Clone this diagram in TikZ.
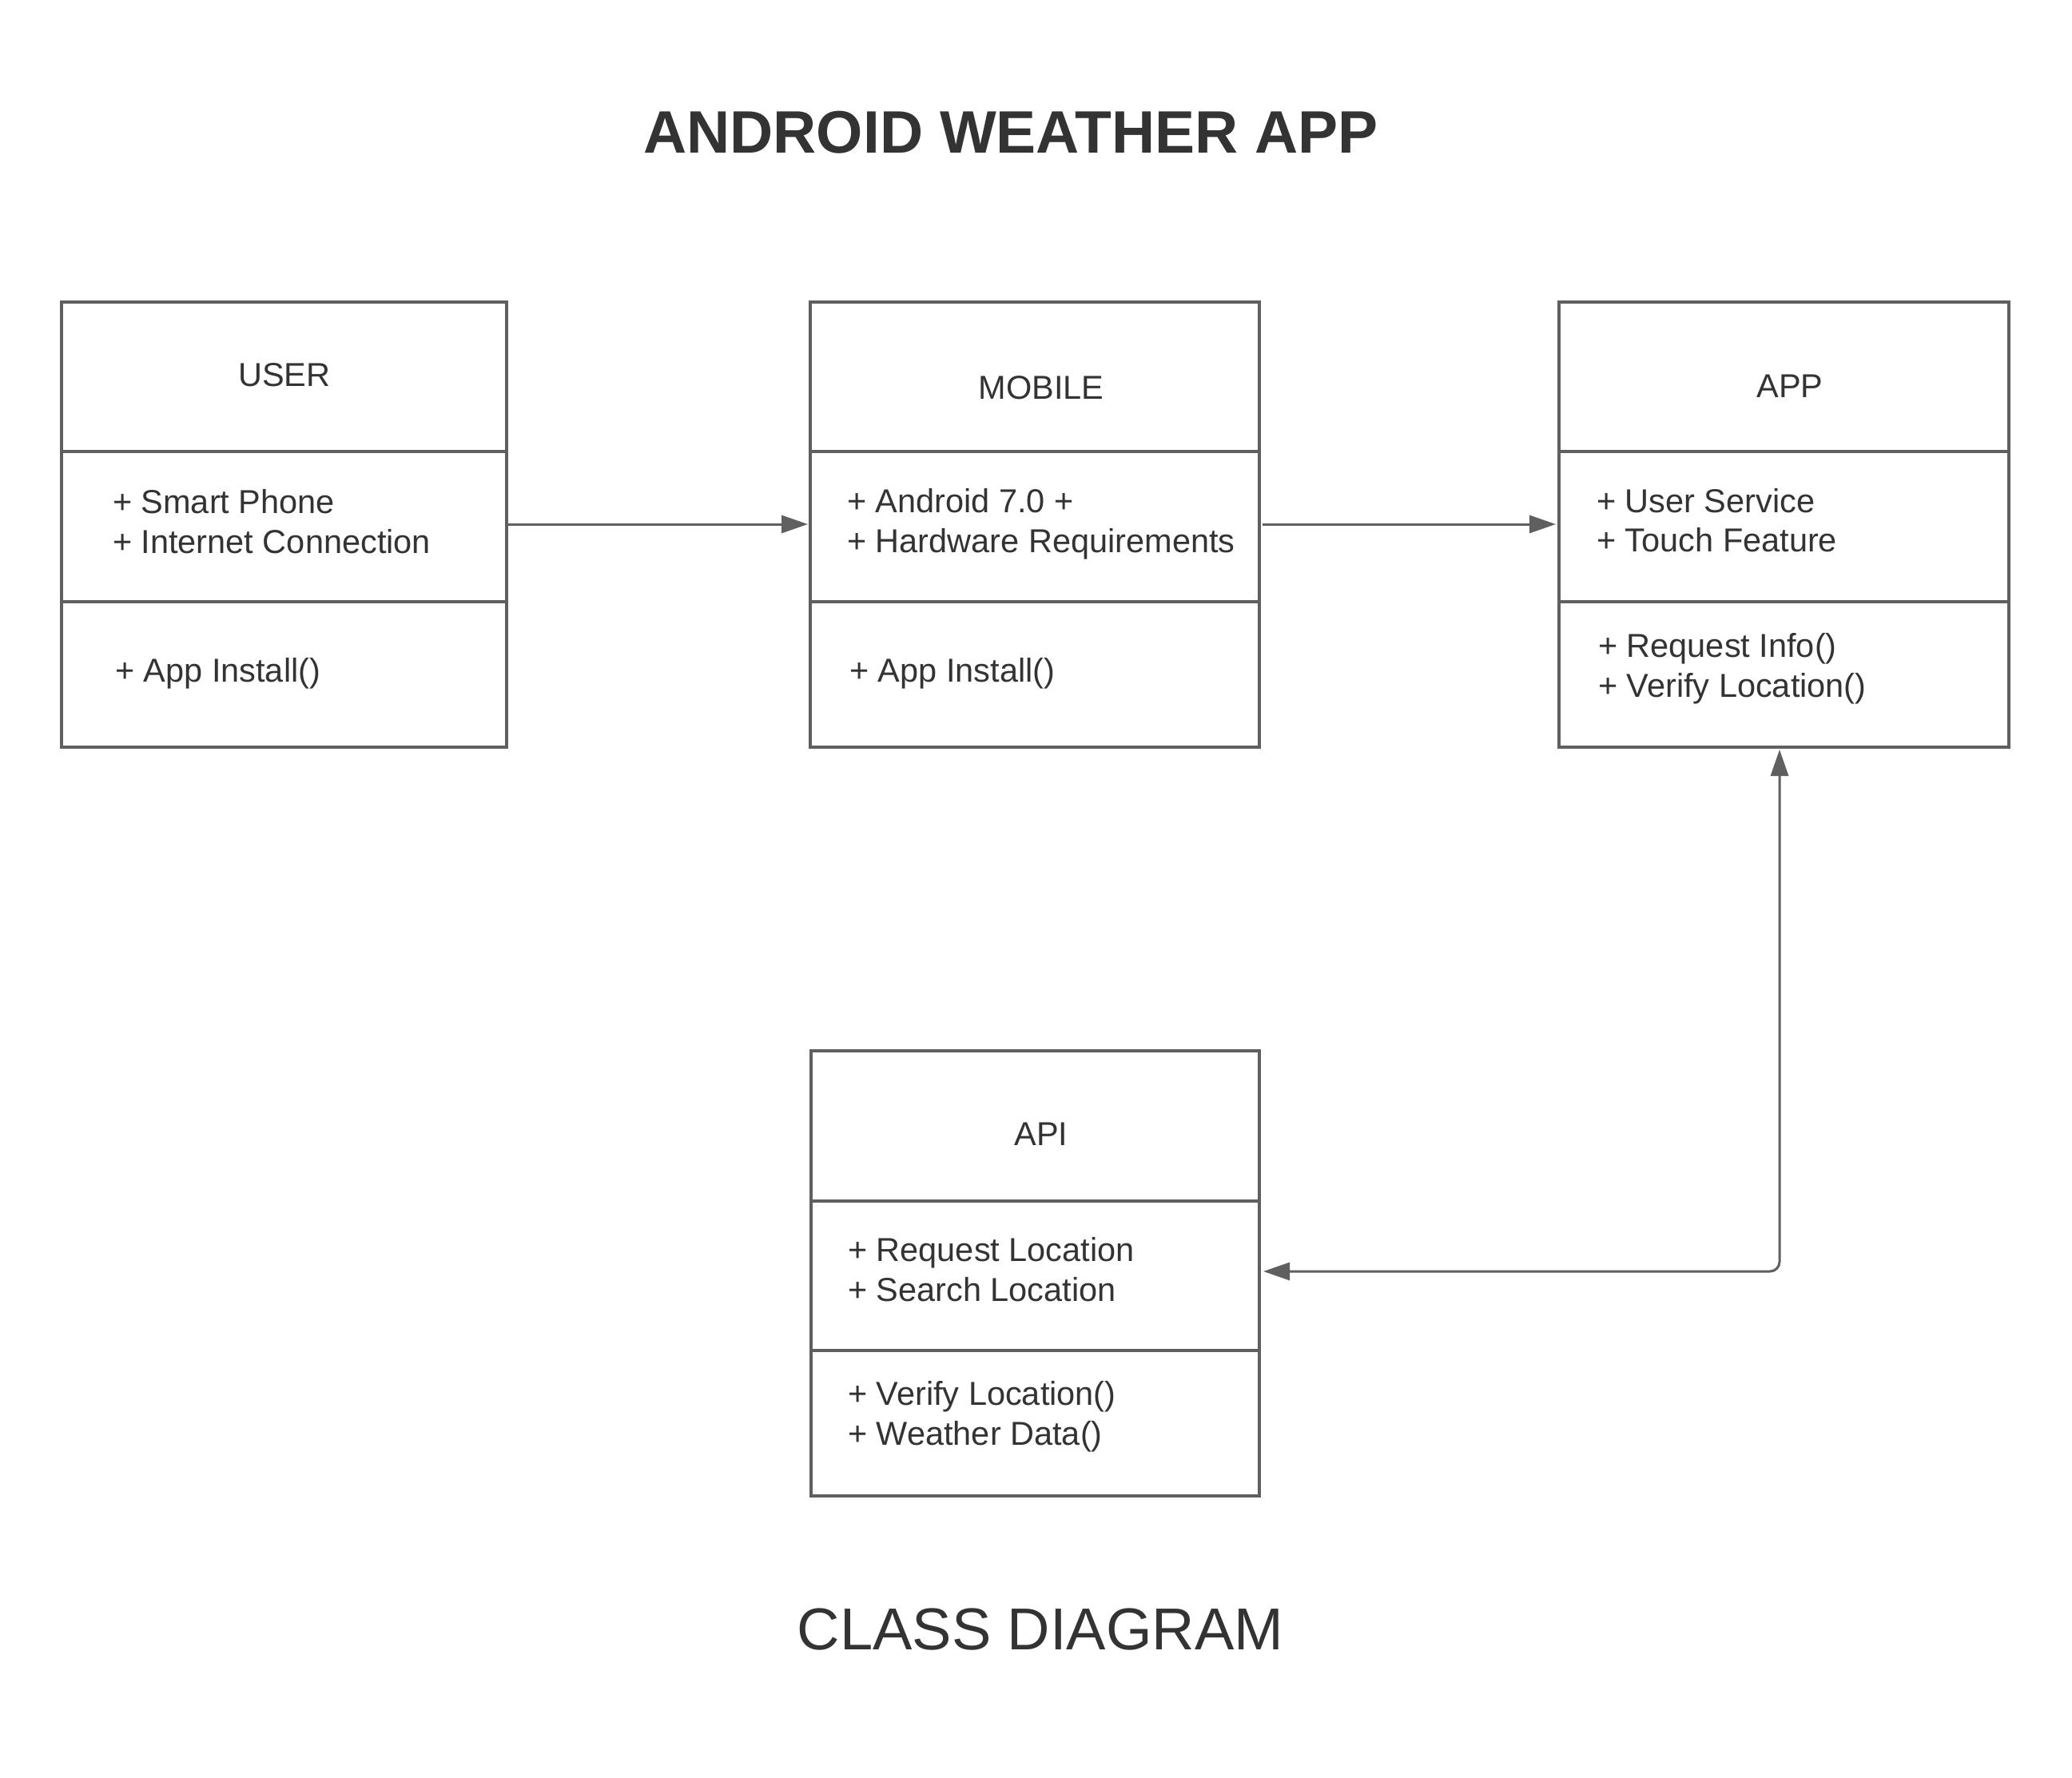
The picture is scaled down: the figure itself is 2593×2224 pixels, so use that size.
\documentclass[tikz,border=0pt]{standalone}
\usepackage{fontspec}
\setmainfont{Liberation Sans}
\usetikzlibrary{arrows.meta}
\definecolor{linegray}{HTML}{5F5F5F}
\definecolor{textgray}{HTML}{333333}
\begin{document}
\begin{tikzpicture}[x=1pt,y=-1pt,
  comp/.style n args={2}{draw=linegray, line width=4.5pt, rectangle, inner sep=0pt, outer sep=0pt,
    anchor=north west, minimum width=#1, minimum height=#2},
  txt/.style={text=textgray, inner sep=0pt, outer sep=0pt, anchor=base west,
    font=\fontsize{41.5}{50}\selectfont},
  cname/.style={txt, anchor=base},
  conn/.style={draw=linegray, line width=3pt, -{Triangle[length=33pt,width=22pt]}},
  conn2/.style={draw=linegray, line width=3pt, {Triangle[length=33pt,width=22pt]}-{Triangle[length=33pt,width=22pt]}}
]
\useasboundingbox[fill=white] (0,0) rectangle (2593,2224);

% Title
\node[text=textgray, inner sep=0pt, anchor=base, font=\fontsize{75}{80}\selectfont\bfseries] (title) at (1265,191) {ANDROID WEATHER APP};

% USER
\node[comp={557pt}{187pt}] (user-n) at (77,378) {};
\node[comp={557pt}{188pt}] (user-a) at (77,565) {};
\node[comp={557pt}{182pt}] (user-m) at (77,753) {};
\node[cname] (user-t) at (356,483) {USER};
\node[txt] (user-a1) at (141,642) {+ Smart Phone};
\node[txt] (user-a2) at (141,692) {+ Internet Connection};
\node[txt] (user-m1) at (144,853) {+ App Install()};

% MOBILE
\node[comp={562pt}{187pt}] (mob-n) at (1014,378) {};
\node[comp={562pt}{188pt}] (mob-a) at (1014,565) {};
\node[comp={562pt}{182pt}] (mob-m) at (1014,753) {};
\node[cname] (mob-t) at (1303,499) {MOBILE};
\node[txt] (mob-a1) at (1060,641) {+ Android 7.0 +};
\node[txt] (mob-a2) at (1060,691) {+ Hardware Requirements};
\node[txt] (mob-m1) at (1063,853) {+ App Install()};

% APP
\node[comp={563pt}{187pt}] (app-n) at (1951,378) {};
\node[comp={563pt}{188pt}] (app-a) at (1951,565) {};
\node[comp={563pt}{182pt}] (app-m) at (1951,753) {};
\node[cname] (app-t) at (2240,497) {APP};
\node[txt] (app-a1) at (1998,641) {+ User Service};
\node[txt] (app-a2) at (1998,690) {+ Touch Feature};
\node[txt] (app-m1) at (2000,822) {+ Request Info()};
\node[txt] (app-m2) at (2000,872) {+ Verify Location()};

% API
\node[comp={561pt}{188pt}] (api-n) at (1015,1315) {};
\node[comp={561pt}{187pt}] (api-a) at (1015,1503) {};
\node[comp={561pt}{182pt}] (api-m) at (1015,1690) {};
\node[cname] (api-t) at (1303,1433) {API};
\node[txt] (api-a1) at (1061,1578) {+ Request Location};
\node[txt] (api-a2) at (1061,1628) {+ Search Location};
\node[txt] (api-m1) at (1061,1758) {+ Verify Location()};
\node[txt] (api-m2) at (1061,1808) {+ Weather Data()};

% Footer
\node[text=textgray, inner sep=0pt, anchor=base, font=\fontsize{74}{80}\selectfont] (footer) at (1302,2064) {CLASS DIAGRAM};

% Connectors
\coordinate (k) at (2227,1591);
\coordinate (ha) at (0,656);
\draw[conn, shorten >=3pt] (user-a.east |- ha) -- (mob-a.west |- ha);
\draw[conn, shorten <=4pt, shorten >=4pt] (mob-a.east |- ha) -- (app-a.west |- ha);
\draw[conn2, rounded corners=12pt, shorten <=5pt, shorten >=3pt] (api-a.east |- k) -- (k) -- (k |- app-m.south);
\end{tikzpicture}
\end{document}
